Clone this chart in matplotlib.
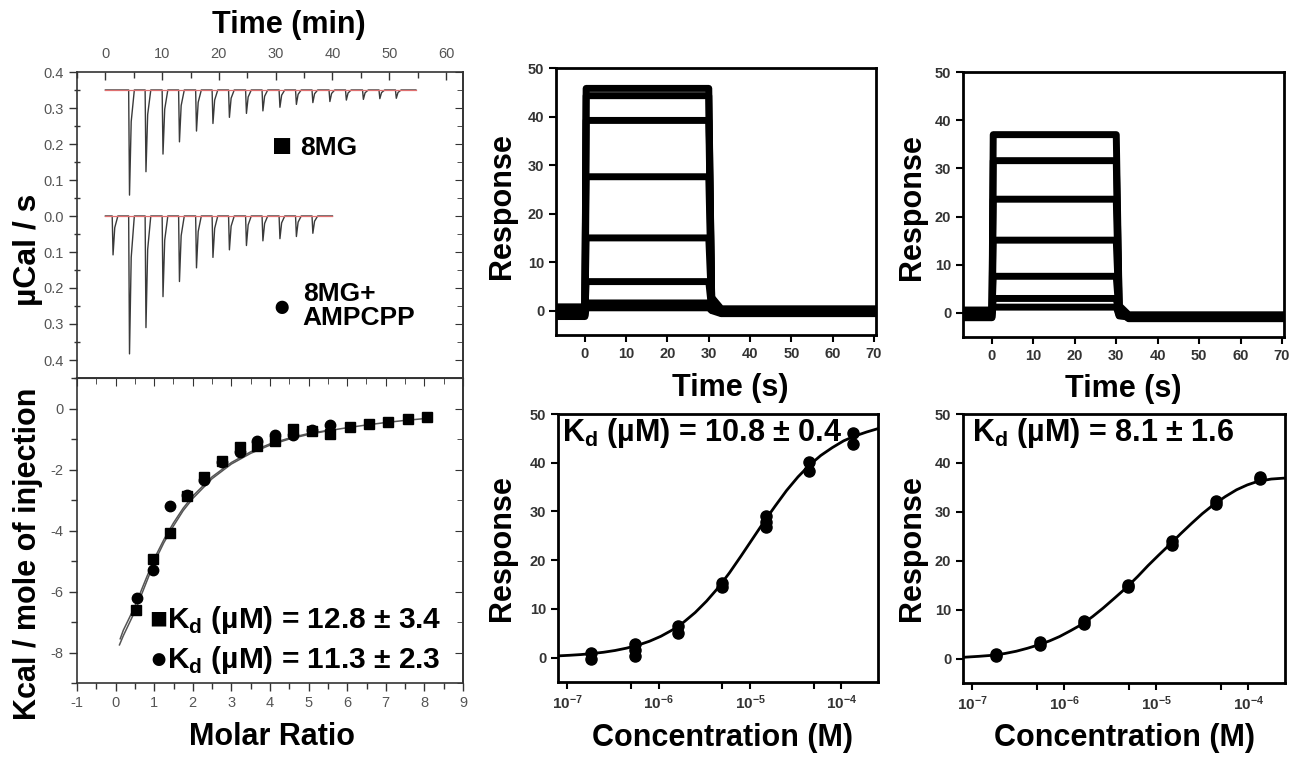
import matplotlib
matplotlib.use("Agg")
import matplotlib.pyplot as plt
from matplotlib.ticker import MultipleLocator, FixedLocator, FuncFormatter, NullFormatter, NullLocator

plt.rcParams['font.family'] = ['Liberation Sans', 'DejaVu Sans']
plt.rcParams['mathtext.fontset'] = 'custom'
plt.rcParams['mathtext.rm'] = 'Liberation Sans'
plt.rcParams['mathtext.bf'] = 'Liberation Sans:bold'
plt.rcParams['axes.unicode_minus'] = False

# ---------------- ITC raw heat (top left) ----------------
mg_base = 0.35
mg_t_end = 54.7
mg_inj_t = [4.1, 7.0, 10.0, 12.9, 15.9, 18.8, 21.7, 24.7, 27.6, 30.6, 33.5,
            36.4, 39.4, 42.3, 45.3, 48.2, 51.1]
mg_inj_min = [0.058, 0.123, 0.172, 0.206, 0.236, 0.257, 0.274, 0.285, 0.292,
              0.302, 0.310, 0.315, 0.318, 0.322, 0.324, 0.326, 0.327]

amp_base = 0.0
amp_t_end = 40.0
amp_inj_t = [1.2, 4.1, 7.0, 10.0, 12.9, 15.9, 18.8, 21.7, 24.7, 27.6, 30.6,
             33.5, 36.4]
amp_inj_min = [-0.108, -0.383, -0.310, -0.224, -0.182, -0.144, -0.115, -0.094,
               -0.082, -0.069, -0.063, -0.057, -0.048]

# ---------------- ITC integrated heats (bottom left) ----------------
sq_ratio = [0.53, 0.96, 1.40, 1.84, 2.30, 2.76, 3.21, 3.66, 4.12, 4.60, 5.08,
            5.55, 6.07, 6.56, 7.06, 7.58, 8.08]
sq_heat = [-6.60, -4.94, -4.09, -2.86, -2.24, -1.72, -1.26, -1.22, -1.08,
           -0.68, -0.73, -0.82, -0.62, -0.51, -0.44, -0.35, -0.27]
ci_ratio = [0.55, 0.96, 1.40, 1.84, 2.30, 2.76, 3.21, 3.66, 4.12, 4.60, 5.08, 5.55]
ci_heat = [-6.20, -5.30, -3.19, -2.83, -2.35, -1.74, -1.41, -1.06, -0.87,
           -0.86, -0.71, -0.55]

fit_sq_x = [0.10, 0.20, 0.35, 0.50, 0.75, 1.00, 1.25, 1.50, 1.75, 2.00, 2.50,
            3.00, 3.50, 4.00, 4.50, 5.00, 5.50, 6.00, 6.50, 7.00, 7.50, 8.10]
fit_sq_y = [-7.75, -7.45, -7.05, -6.65, -5.85, -5.05, -4.40, -3.85, -3.35,
            -2.95, -2.30, -1.82, -1.47, -1.20, -1.00, -0.85, -0.73, -0.63,
            -0.54, -0.46, -0.39, -0.32]
fit_ci_x = [0.12, 0.20, 0.35, 0.50, 0.75, 1.00, 1.25, 1.50, 1.75, 2.00, 2.50,
            3.00, 3.50, 4.00, 4.50, 5.00, 5.60]
fit_ci_y = [-7.55, -7.27, -6.88, -6.48, -5.70, -4.93, -4.30, -3.75, -3.27,
            -2.87, -2.24, -1.77, -1.42, -1.16, -0.97, -0.82, -0.70]

kd_sq = "12.8 ± 3.4"
kd_ci = "11.3 ± 2.3"

# ---------------- SPR sensorgrams ----------------
mid_levels = [45.8, 44.3, 39.2, 27.6, 15.0, 6.0, 1.6, 0.6]
mid_base = [0.8, -0.6, 0.3, -1.0, 0.5, -0.3, 0.0, -1.2]
mid_post = 0.0
right_levels = [37.0, 31.6, 23.6, 15.1, 7.6, 3.0, 1.2]
right_base = [0.6, -0.8, 0.2, -1.0, 0.4, -0.4, 0.0]
right_post = -0.7

# ---------------- SPR dose response ----------------
mid_conc = [1.83e-7, 1.83e-7, 5.49e-7, 5.49e-7, 5.49e-7, 1.65e-6, 1.65e-6,
            4.94e-6, 4.94e-6, 1.48e-5, 1.48e-5, 1.48e-5, 4.44e-5, 4.44e-5,
            1.33e-4, 1.33e-4]
mid_resp = [1.0, -0.3, 2.8, 1.6, 0.4, 6.4, 5.1, 15.3, 14.4, 29.0, 27.8, 26.8,
            40.1, 38.3, 46.2, 43.8]
mid_fit_logc = [-7.1, -6.975, -6.85, -6.725, -6.6, -6.475, -6.35, -6.225, -6.1,
                -5.975, -5.85, -5.725, -5.6, -5.475, -5.35, -5.225, -5.1, -4.975,
                -4.85, -4.725, -4.6, -4.475, -4.35, -4.225, -4.1, -3.975, -3.85,
                -3.725, -3.6]
mid_fit_resp = [0.36, 0.48, 0.63, 0.84, 1.11, 1.47, 1.95, 2.56, 3.36, 4.38,
                5.67, 7.28, 9.25, 11.6, 14.3, 17.4, 20.8, 24.3, 27.8, 31.1,
                34.3, 37.1, 39.5, 41.5, 43.1, 44.5, 45.5, 46.3, 47.0]
kd_mid = "10.8 ± 0.4"

right_conc = [1.83e-7, 1.83e-7, 5.49e-7, 5.49e-7, 1.65e-6, 1.65e-6, 4.94e-6,
              4.94e-6, 1.48e-5, 1.48e-5, 4.44e-5, 4.44e-5, 1.33e-4, 1.33e-4]
right_resp = [0.6, 1.0, 2.8, 3.3, 7.1, 7.7, 14.6, 15.1, 23.3, 24.0, 31.7, 32.2,
              36.8, 37.2]
right_fit_logc = [-7.10, -6.93, -6.757, -6.64, -6.52, -6.40, -6.278, -6.16,
                  -6.05, -5.93, -5.807, -5.69, -5.578, -5.45, -5.324, -5.20,
                  -5.089, -4.97, -4.853, -4.735, -4.617, -4.50, -4.381, -4.25,
                  -4.127, -4.01, -3.90, -3.75, -3.60]
right_fit_resp = [0.25, 0.45, 0.70, 1.05, 1.50, 2.10, 2.80, 3.60, 4.50, 5.70,
                  7.00, 8.60, 10.3, 12.4, 14.5, 16.8, 19.0, 21.2, 23.3, 25.5,
                  27.6, 29.6, 31.4, 33.1, 34.5, 35.5, 36.2, 36.7, 36.9]
kd_right = "8.1 ± 1.6"

W, H = 1297, 757


def box(l, t, r, b):
    return [l / W, 1 - b / H, (r - l) / W, (b - t) / H]


def itc_trace(t_end, base, inj_t, inj_min):
    t = [0.0]
    y = [base]
    for ti, mi in zip(inj_t, inj_min):
        t += [ti, ti + 0.15, ti + 0.45, ti + 1.0]
        y += [base, mi, base + 0.3 * (mi - base), base]
    t.append(t_end)
    y.append(base)
    return t, y


def spr_trace(level, base, post):
    t = [-7, 0, 0.3, 30, 30.7, 33, 70.5]
    r = [base, base, level, level, post + 0.06 * level, post + base * 0.5, post + base * 0.5]
    return t, r


def itc_style(ax):
    for s in ax.spines.values():
        s.set_color('#333333')
        s.set_linewidth(1.2)
    ax.tick_params(which='both', colors='#333333', labelcolor='#555555',
                   labelsize=10.5, width=1.0)
    ax.tick_params(which='major', length=6)
    ax.tick_params(which='minor', length=4)


def spr_style(ax):
    for s in ax.spines.values():
        s.set_linewidth(2.0)
        s.set_color('black')
    ax.tick_params(which='both', direction='out', length=5, width=1.5,
                   labelsize=10.5, labelcolor='#333333', top=False, right=False)
    for lab in ax.get_xticklabels() + ax.get_yticklabels():
        lab.set_fontweight('bold')


def set_label(lab):
    lab.set_fontweight('bold')
    lab.set_va('center')
    lab.set_ha('center')


fig = plt.figure(figsize=(12.97, 7.57), dpi=100)

# ===== ITC top =====
ax1 = fig.add_axes(box(77, 72, 463, 378))
t1, y1 = itc_trace(mg_t_end, mg_base, mg_inj_t, mg_inj_min)
t2, y2 = itc_trace(amp_t_end, amp_base, amp_inj_t, amp_inj_min)
ax1.plot(t1, y1, color='#3a3a3a', lw=1.0)
ax1.plot(t2, y2, color='#3a3a3a', lw=1.0)
ax1.plot([0, mg_t_end], [mg_base, mg_base], color='#e07070', lw=0.9)
ax1.plot([0, amp_t_end], [amp_base, amp_base], color='#e07070', lw=0.9)
ax1.set_xlim(-5, 63)
ax1.set_ylim(-0.45, 0.4)
ax1.xaxis.tick_top()
ax1.xaxis.set_major_locator(MultipleLocator(10))
ax1.xaxis.set_minor_locator(MultipleLocator(5))
ax1.yaxis.set_major_locator(MultipleLocator(0.1))
ax1.yaxis.set_minor_locator(MultipleLocator(0.05))
ax1.yaxis.set_major_formatter(FuncFormatter(lambda v, p: "%.1f" % abs(v)))
itc_style(ax1)
ax1.tick_params(axis='x', which='both', direction='in', pad=8)
ax1.tick_params(axis='y', which='major', direction='out')
ax1.tick_params(axis='y', which='minor', direction='inout')
sec = ax1.secondary_yaxis('right')
sec.yaxis.set_major_locator(MultipleLocator(0.1))
sec.yaxis.set_minor_locator(MultipleLocator(0.05))
sec.yaxis.set_major_formatter(NullFormatter())
sec.tick_params(which='both', direction='in', colors='#333333')
sec.tick_params(which='major', length=6)
sec.tick_params(which='minor', length=4)
sec.spines['right'].set_color('#333333')
sec.spines['right'].set_linewidth(1.2)
ax1.xaxis.set_label_position('top')
ax1.set_xlabel('Time (min)', fontsize=22)
ax1.xaxis.set_label_coords(0.549, 1.154)
set_label(ax1.xaxis.label)
ax1.set_ylabel('µCal / s', fontsize=23)
ax1.yaxis.set_label_coords(-0.127, 0.42)
set_label(ax1.yaxis.label)
ax1.text(0.531, 0.752, '■', transform=ax1.transAxes, fontsize=24,
         ha='center', va='center')
ax1.text(0.578, 0.752, '8MG', transform=ax1.transAxes, fontsize=19,
         fontweight='bold', ha='left', va='center')
ax1.text(0.531, 0.229, '●', transform=ax1.transAxes, fontsize=22,
         ha='center', va='center')
ax1.text(0.585, 0.236, '8MG+\nAMPCPP', transform=ax1.transAxes, fontsize=19,
         fontweight='bold', ha='left', va='center', linespacing=1.0)

# ===== ITC bottom =====
ax2 = fig.add_axes(box(77, 378, 463, 683))
ax2.plot(fit_sq_x, fit_sq_y, color='#555555', lw=1.1)
ax2.plot(fit_ci_x, fit_ci_y, color='#555555', lw=1.1)
ax2.plot(sq_ratio, sq_heat, 's', color='black', ms=7)
ax2.plot(ci_ratio, ci_heat, 'o', color='black', ms=7.5)
ax2.set_xlim(-1, 9)
ax2.set_ylim(-9, 1)
ax2.xaxis.set_major_locator(MultipleLocator(1))
ax2.xaxis.set_minor_locator(MultipleLocator(0.5))
ax2.yaxis.set_major_locator(FixedLocator([-8, -6, -4, -2, 0]))
ax2.yaxis.set_minor_locator(MultipleLocator(1))
itc_style(ax2)
ax2.tick_params(which='both', direction='out')
secx = ax2.secondary_xaxis('top')
secx.xaxis.set_major_locator(MultipleLocator(1))
secx.xaxis.set_minor_locator(MultipleLocator(0.5))
secx.xaxis.set_major_formatter(NullFormatter())
secx.tick_params(which='both', direction='in', colors='#333333')
secx.tick_params(which='major', length=6)
secx.tick_params(which='minor', length=4)
secx.spines['top'].set_color('#333333')
secy = ax2.secondary_yaxis('right')
secy.yaxis.set_major_locator(MultipleLocator(2))
secy.yaxis.set_minor_locator(MultipleLocator(1))
secy.yaxis.set_major_formatter(NullFormatter())
secy.tick_params(which='both', direction='in', colors='#333333')
secy.tick_params(which='major', length=6)
secy.tick_params(which='minor', length=4)
secy.spines['right'].set_color('#333333')
secy.spines['right'].set_linewidth(1.2)
ax2.set_xlabel('Molar Ratio', fontsize=22)
ax2.xaxis.set_label_coords(0.505, -0.177)
set_label(ax2.xaxis.label)
ax2.set_ylabel('Kcal / mole of injection', fontsize=22)
ax2.yaxis.set_label_coords(-0.127, 0.423)
set_label(ax2.yaxis.label)
ax2.text(0.187, 0.207, '■' + r'$\mathbf{K}_\mathbf{d}$ (µM) = ' + kd_sq,
         transform=ax2.transAxes, fontsize=21.5, fontweight='bold',
         ha='left', va='center')
ax2.text(0.187, 0.075, '●' + r'$\mathbf{K}_\mathbf{d}$ (µM) = ' + kd_ci,
         transform=ax2.transAxes, fontsize=21.5, fontweight='bold',
         ha='left', va='center')


# ===== SPR sensorgrams =====
def sensorgram(ax, levels, bases, post):
    for lv, b in zip(levels, bases):
        t, r = spr_trace(lv, b, post)
        ax.plot(t, r, color='black', lw=5.0)
    ax.set_xlim(-7, 70.5)
    ax.set_ylim(-5, 50)
    ax.xaxis.set_major_locator(MultipleLocator(10))
    ax.yaxis.set_major_locator(MultipleLocator(10))
    spr_style(ax)


ax3 = fig.add_axes(box(556, 68, 876, 335))
sensorgram(ax3, mid_levels, mid_base, mid_post)
ax3.set_ylabel('Response', fontsize=22)
ax3.yaxis.set_label_coords(-0.169, 0.483)
set_label(ax3.yaxis.label)
ax3.set_xlabel('Time (s)', fontsize=22)
ax3.xaxis.set_label_coords(0.544, -0.199)
set_label(ax3.xaxis.label)

ax5 = fig.add_axes(box(963, 72, 1284, 337))
sensorgram(ax5, right_levels, right_base, right_post)
ax5.set_ylabel('Response', fontsize=22)
ax5.yaxis.set_label_coords(-0.159, 0.49)
set_label(ax5.yaxis.label)
ax5.set_xlabel('Time (s)', fontsize=22)
ax5.xaxis.set_label_coords(0.498, -0.196)
set_label(ax5.xaxis.label)


# ===== SPR dose response =====
def dose(ax, conc, resp, fit_logc, fit_resp, kd, kd_x):
    ax.plot([10 ** v for v in fit_logc], fit_resp, color='black', lw=2.0)
    ax.plot(conc, resp, 'o', color='black', ms=8)
    ax.set_xscale('log')
    ax.set_xlim(10 ** -7.1, 10 ** -3.6)
    ax.set_ylim(-5, 50)
    ax.xaxis.set_major_locator(FixedLocator([1e-7, 5e-7, 1e-6, 5e-6, 1e-5, 5e-5, 1e-4]))
    ax.xaxis.set_minor_locator(NullLocator())
    dec = {1e-7: -7, 1e-6: -6, 1e-5: -5, 1e-4: -4}

    def fmt(v, p):
        for k, e in dec.items():
            if abs(v - k) / k < 1e-6:
                return r'$\mathbf{10^{%d}}$' % e
        return ''
    ax.xaxis.set_major_formatter(FuncFormatter(fmt))
    ax.yaxis.set_major_locator(MultipleLocator(10))
    spr_style(ax)
    ax.tick_params(axis='x', labelsize=11)
    ax.text(kd_x, 0.929, r'$\mathbf{K}_\mathbf{d}$ (µM) = ' + kd,
            transform=ax.transAxes, fontsize=22, fontweight='bold',
            ha='left', va='center', zorder=5)
    ax.set_ylabel('Response', fontsize=22)
    ax.set_xlabel('Concentration (M)', fontsize=22)


ax4 = fig.add_axes(box(558, 414, 878, 682))
dose(ax4, mid_conc, mid_resp, mid_fit_logc, mid_fit_resp, kd_mid, 0.012)
ax4.yaxis.set_label_coords(-0.175, 0.5)
set_label(ax4.yaxis.label)
ax4.xaxis.set_label_coords(0.5125, -0.209)
set_label(ax4.xaxis.label)

ax6 = fig.add_axes(box(963, 414, 1285, 683))
dose(ax6, right_conc, right_resp, right_fit_logc, right_fit_resp, kd_right, 0.028)
ax6.yaxis.set_label_coords(-0.158, 0.5)
set_label(ax6.yaxis.label)
ax6.xaxis.set_label_coords(0.503, -0.204)
set_label(ax6.xaxis.label)

fig.savefig('out.png', dpi=100, facecolor='white')
